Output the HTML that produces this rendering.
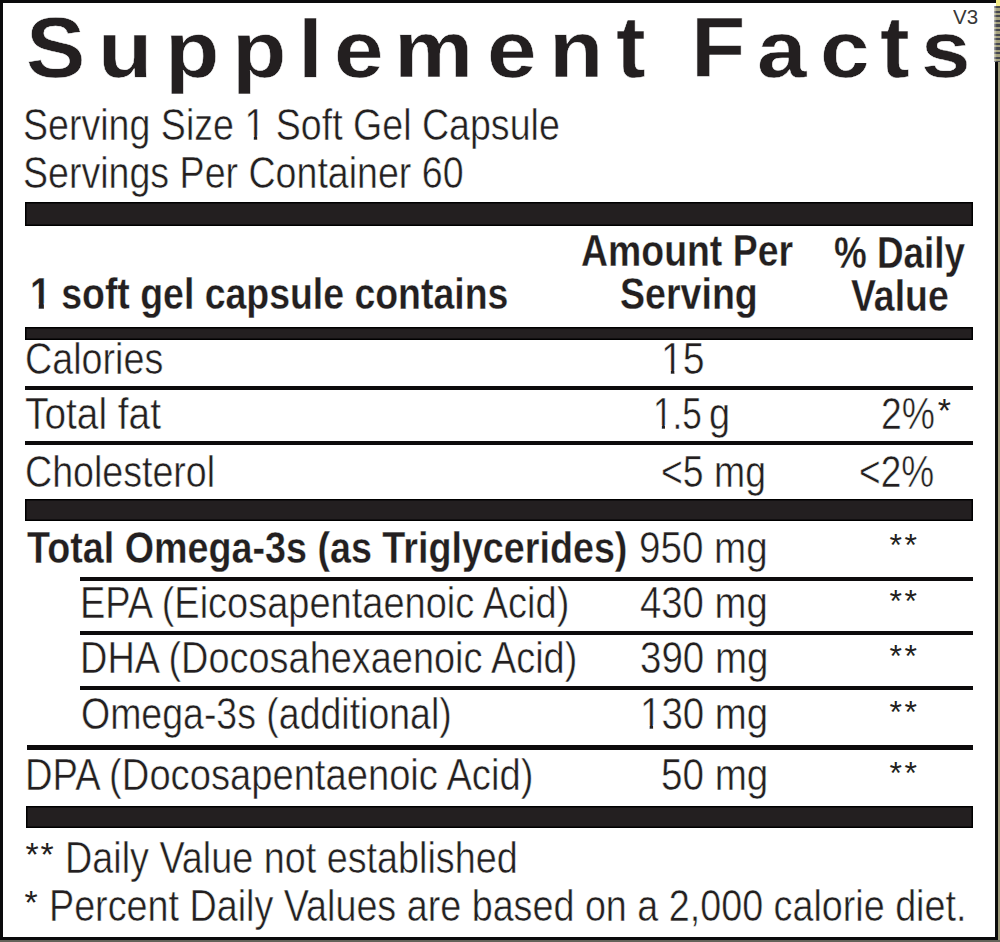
<!DOCTYPE html>
<html><head><meta charset="utf-8"><title>Supplement Facts</title>
<style>
html,body{margin:0;padding:0;background:#fff;}
body{width:1000px;height:942px;position:relative;overflow:hidden;font-family:"Liberation Sans",sans-serif;color:#231f20;}
.t{position:absolute;white-space:nowrap;transform-origin:0 0;}
.n{-webkit-text-stroke:0.5px #fff;}
.nb{-webkit-text-stroke:0.3px #fff;}
.o1{clip-path:polygon(0 0,100% 0,100% 73.0%,61.1% 73.0%,61.1% 100%,45.2% 100%,45.2% 73.0%,0 73.0%);}
.o1b{clip-path:polygon(0 0,100% 0,100% 68.5%,66.6% 68.5%,66.6% 100%,42% 100%,42% 68.5%,0 68.5%);}
.r{position:absolute;}
</style></head><body>
<div class="r" style="left:997.60px;top:0.00px;width:2.40px;height:942.00px;background:#9b9878"></div>
<div class="r" style="left:0.00px;top:939.80px;width:1000.00px;height:2.20px;background:#64635a"></div>
<div class="r" style="left:0.00px;top:0.00px;width:995.80px;height:2.70px;background:#0b0b0c"></div>
<div class="r" style="left:0.00px;top:0.00px;width:3.00px;height:939.80px;background:#0b0b0c"></div>
<div class="r" style="left:995.20px;top:62.00px;width:2.40px;height:877.80px;background:#0b0b0c"></div>
<div class="r" style="left:0.00px;top:937.40px;width:997.60px;height:2.40px;background:#0b0b0c"></div>
<div class="r" style="left:25.00px;top:202.00px;width:948.00px;height:24.00px;background:#231f20;box-shadow:inset 0 0 0 1.5px #000"></div>
<div class="r" style="left:25.00px;top:327.00px;width:948.00px;height:12.50px;background:#231f20;box-shadow:inset 0 0 0 1.5px #000"></div>
<div class="r" style="left:25.00px;top:385.50px;width:948.00px;height:4.00px;background:#0d0b0c"></div>
<div class="r" style="left:25.00px;top:440.50px;width:948.00px;height:4.00px;background:#0d0b0c"></div>
<div class="r" style="left:25.00px;top:499.30px;width:948.00px;height:21.50px;background:#231f20;box-shadow:inset 0 0 0 1.5px #000"></div>
<div class="r" style="left:80.40px;top:577.30px;width:892.60px;height:4.10px;background:#0d0b0c"></div>
<div class="r" style="left:80.40px;top:630.70px;width:892.60px;height:4.10px;background:#0d0b0c"></div>
<div class="r" style="left:80.40px;top:685.80px;width:892.60px;height:3.90px;background:#0d0b0c"></div>
<div class="r" style="left:27.00px;top:745.30px;width:946.00px;height:4.40px;background:#0d0b0c"></div>
<div class="r" style="left:25.80px;top:806.20px;width:947.20px;height:21.60px;background:#231f20;box-shadow:inset 0 0 0 1.5px #000"></div>
<div class="r" style="left:995.80px;top:0.00px;width:4.20px;height:5.50px;background:#f3ea86"></div>
<div class="r" style="left:993.60px;top:5.50px;width:6.40px;height:56.50px;background:linear-gradient(90deg,rgba(255,255,255,.55),rgba(255,255,255,0) 45%),repeating-linear-gradient(180deg,#46474f 0px,#46474f 2.3px,#a6a27e 2.3px,#a6a27e 4.6px)"></div>
<div class="t n" style="left:26.25px;top:6.48px;font-size:84.00px;line-height:84.00px;font-weight:bold;transform:scale(1.0600,1.0150);transform-origin:0 71.12px">S</div>
<div class="t n" style="left:98.00px;top:6.48px;font-size:84.00px;line-height:84.00px;font-weight:bold;transform:scale(1.0600,0.9450);transform-origin:0 71.12px">u</div>
<div class="t n" style="left:164.75px;top:6.48px;font-size:84.00px;line-height:84.00px;font-weight:bold;transform:scale(1.0600,0.9450);transform-origin:0 71.12px">p</div>
<div class="t n" style="left:231.55px;top:6.48px;font-size:84.00px;line-height:84.00px;font-weight:bold;transform:scale(1.0600,0.9450);transform-origin:0 71.12px">p</div>
<div class="t n" style="left:297.50px;top:6.48px;font-size:84.00px;line-height:84.00px;font-weight:bold;transform:scale(1.0600,0.9740);transform-origin:0 71.12px">l</div>
<div class="t n" style="left:334.05px;top:6.48px;font-size:84.00px;line-height:84.00px;font-weight:bold;transform:scale(1.0600,0.9450);transform-origin:0 71.12px">e</div>
<div class="t n" style="left:394.25px;top:6.48px;font-size:84.00px;line-height:84.00px;font-weight:bold;transform:scale(1.0600,0.9450);transform-origin:0 71.12px">m</div>
<div class="t n" style="left:487.00px;top:6.48px;font-size:84.00px;line-height:84.00px;font-weight:bold;transform:scale(1.0600,0.9450);transform-origin:0 71.12px">e</div>
<div class="t n" style="left:549.00px;top:6.48px;font-size:84.00px;line-height:84.00px;font-weight:bold;transform:scale(1.0600,0.9450);transform-origin:0 71.12px">n</div>
<div class="t n" style="left:615.50px;top:6.48px;font-size:84.00px;line-height:84.00px;font-weight:bold;transform:scale(1.0600,1.0300);transform-origin:0 71.12px">t</div>
<div class="t n" style="left:691.00px;top:6.48px;font-size:84.00px;line-height:84.00px;font-weight:bold;transform:scale(1.0600,1.0150);transform-origin:0 71.12px">F</div>
<div class="t n" style="left:756.75px;top:6.48px;font-size:84.00px;line-height:84.00px;font-weight:bold;transform:scale(1.0600,0.9450);transform-origin:0 71.12px">a</div>
<div class="t n" style="left:820.45px;top:6.48px;font-size:84.00px;line-height:84.00px;font-weight:bold;transform:scale(1.0600,0.9450);transform-origin:0 71.12px">c</div>
<div class="t n" style="left:879.90px;top:6.48px;font-size:84.00px;line-height:84.00px;font-weight:bold;transform:scale(1.0600,1.0300);transform-origin:0 71.12px">t</div>
<div class="t n" style="left:920.95px;top:6.48px;font-size:84.00px;line-height:84.00px;font-weight:bold;transform:scale(1.0600,0.9450);transform-origin:0 71.12px">s</div>
<div class="t" style="left:953.15px;top:6.87px;font-size:20.00px;line-height:20.00px;font-weight:normal;transform:scaleX(1.0228);color:#383838">V3</div>
<div class="t n" style="left:22.99px;top:102.75px;font-size:44.00px;line-height:44.00px;font-weight:normal;transform:scaleX(0.8540)">Serving Size <span class="o1">1</span> Soft Gel Capsule</div>
<div class="t n" style="left:23.09px;top:151.25px;font-size:44.00px;line-height:44.00px;font-weight:normal;transform:scaleX(0.8537)">Servings Per Container 60</div>
<div class="t nb" style="left:30.22px;top:271.40px;font-size:45.00px;line-height:45.00px;font-weight:bold;transform:scaleX(0.8316)"><span class="o1b">1</span> soft gel capsule contains</div>
<div class="t nb" style="left:581.11px;top:228.30px;font-size:45.00px;line-height:45.00px;font-weight:bold;transform:scaleX(0.8313)">Amount Per</div>
<div class="t nb" style="left:620.09px;top:271.40px;font-size:45.00px;line-height:45.00px;font-weight:bold;transform:scaleX(0.8348)">Serving</div>
<div class="t nb" style="left:834.09px;top:229.90px;font-size:45.00px;line-height:45.00px;font-weight:bold;transform:scaleX(0.8182)">% Daily</div>
<div class="t nb" style="left:851.00px;top:273.20px;font-size:45.00px;line-height:45.00px;font-weight:bold;transform:scaleX(0.8308)">Value</div>
<div class="t n" style="left:25.08px;top:337.05px;font-size:44.00px;line-height:44.00px;font-weight:normal;transform:scaleX(0.8568)">Calories</div>
<div class="t n" style="left:661.02px;top:337.05px;font-size:44.00px;line-height:44.00px;font-weight:normal;transform:scaleX(0.8918)"><span class="o1">1</span>5</div>
<div class="t n" style="left:25.01px;top:392.15px;font-size:44.00px;line-height:44.00px;font-weight:normal;transform:scaleX(0.8823)">Total fat</div>
<div class="t n" style="left:652.92px;top:392.15px;font-size:44.00px;line-height:44.00px;font-weight:normal;transform:scaleX(0.8000)"><span class="o1">1</span>.5</div>
<div class="t n" style="left:709.00px;top:392.15px;font-size:44.00px;line-height:44.00px;font-weight:normal;transform:scaleX(0.8624)">g</div>
<div class="t n" style="left:881.30px;top:392.15px;font-size:44.00px;line-height:44.00px;font-weight:normal;transform:scaleX(0.8487)">2%</div>
<div class="t" style="left:937.85px;top:393.10px;font-size:34.00px;line-height:34.00px;font-weight:normal;transform:scaleX(1.0000)">*</div>
<div class="t n" style="left:25.10px;top:449.85px;font-size:44.00px;line-height:44.00px;font-weight:normal;transform:scaleX(0.8541)">Cholesterol</div>
<div class="t n" style="left:661.11px;top:449.85px;font-size:44.00px;line-height:44.00px;font-weight:normal;transform:scaleX(0.8495)">&lt;5 mg</div>
<div class="t n" style="left:859.13px;top:449.85px;font-size:44.00px;line-height:44.00px;font-weight:normal;transform:scaleX(0.8416)">&lt;2%</div>
<div class="t nb" style="left:27.00px;top:525.85px;font-size:44.00px;line-height:44.00px;font-weight:bold;transform:scaleX(0.8565)">Total Omega-3s (as Triglycerides)</div>
<div class="t n" style="left:639.08px;top:525.85px;font-size:44.00px;line-height:44.00px;font-weight:normal;transform:scaleX(0.8768)">950 mg</div>
<div class="t n" style="left:80.13px;top:581.05px;font-size:44.00px;line-height:44.00px;font-weight:normal;transform:scaleX(0.8635)">EPA (Eicosapentaenoic Acid)</div>
<div class="t n" style="left:640.06px;top:581.05px;font-size:44.00px;line-height:44.00px;font-weight:normal;transform:scaleX(0.8700)">430 mg</div>
<div class="t n" style="left:80.13px;top:635.95px;font-size:44.00px;line-height:44.00px;font-weight:normal;transform:scaleX(0.8616)">DHA (Docosahexaenoic Acid)</div>
<div class="t n" style="left:640.06px;top:635.95px;font-size:44.00px;line-height:44.00px;font-weight:normal;transform:scaleX(0.8754)">390 mg</div>
<div class="t n" style="left:81.11px;top:692.05px;font-size:44.00px;line-height:44.00px;font-weight:normal;transform:scaleX(0.8517)">Omega-3s (additional)</div>
<div class="t n" style="left:640.17px;top:692.05px;font-size:44.00px;line-height:44.00px;font-weight:normal;transform:scaleX(0.8733)"><span class="o1">1</span>30 mg</div>
<div class="t n" style="left:25.09px;top:753.35px;font-size:44.00px;line-height:44.00px;font-weight:normal;transform:scaleX(0.8672)">DPA (Docosapentaenoic Acid)</div>
<div class="t n" style="left:661.07px;top:753.35px;font-size:44.00px;line-height:44.00px;font-weight:normal;transform:scaleX(0.8779)">50 mg</div>
<div class="t" style="left:889.45px;top:529.43px;font-size:32.00px;line-height:32.00px;font-weight:normal;transform:scaleX(1.0000)">*</div>
<div class="t" style="left:904.45px;top:529.43px;font-size:32.00px;line-height:32.00px;font-weight:normal;transform:scaleX(1.0000)">*</div>
<div class="t" style="left:889.45px;top:584.93px;font-size:32.00px;line-height:32.00px;font-weight:normal;transform:scaleX(1.0000)">*</div>
<div class="t" style="left:904.45px;top:584.93px;font-size:32.00px;line-height:32.00px;font-weight:normal;transform:scaleX(1.0000)">*</div>
<div class="t" style="left:889.45px;top:639.93px;font-size:32.00px;line-height:32.00px;font-weight:normal;transform:scaleX(1.0000)">*</div>
<div class="t" style="left:904.45px;top:639.93px;font-size:32.00px;line-height:32.00px;font-weight:normal;transform:scaleX(1.0000)">*</div>
<div class="t" style="left:889.45px;top:695.93px;font-size:32.00px;line-height:32.00px;font-weight:normal;transform:scaleX(1.0000)">*</div>
<div class="t" style="left:904.45px;top:695.93px;font-size:32.00px;line-height:32.00px;font-weight:normal;transform:scaleX(1.0000)">*</div>
<div class="t" style="left:889.45px;top:756.93px;font-size:32.00px;line-height:32.00px;font-weight:normal;transform:scaleX(1.0000)">*</div>
<div class="t" style="left:904.45px;top:756.93px;font-size:32.00px;line-height:32.00px;font-weight:normal;transform:scaleX(1.0000)">*</div>
<div class="t" style="left:25.45px;top:836.80px;font-size:34.00px;line-height:34.00px;font-weight:normal;transform:scaleX(1.0000)">*</div>
<div class="t" style="left:40.45px;top:836.80px;font-size:34.00px;line-height:34.00px;font-weight:normal;transform:scaleX(1.0000)">*</div>
<div class="t n" style="left:65.01px;top:835.65px;font-size:44.00px;line-height:44.00px;font-weight:normal;transform:scaleX(0.8581)">Daily Value not established</div>
<div class="t" style="left:24.55px;top:885.30px;font-size:34.00px;line-height:34.00px;font-weight:normal;transform:scaleX(1.0000)">*</div>
<div class="t n" style="left:48.61px;top:883.95px;font-size:44.00px;line-height:44.00px;font-weight:normal;transform:scaleX(0.8570)">Percent Daily Values are based on a 2,000 calorie diet.</div>
</body></html>
